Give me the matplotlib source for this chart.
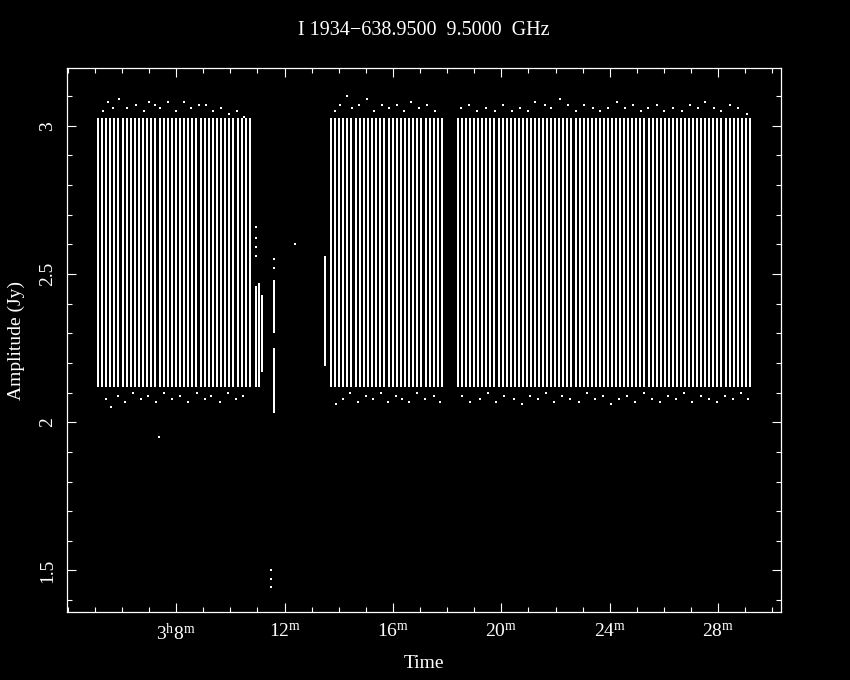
import numpy as np
import matplotlib
matplotlib.use('Agg')
import matplotlib.pyplot as plt
from matplotlib.ticker import FixedLocator, FixedFormatter, MultipleLocator

plt.rcParams['font.family'] = ['Liberation Serif', 'DejaVu Serif']
plt.rcParams['mathtext.fontset'] = 'custom'
plt.rcParams['mathtext.rm'] = 'Liberation Serif'
plt.rcParams['mathtext.it'] = 'Liberation Serif'

# 时间单位: 3h 之后的分钟数
# 三段连续观测 (起点, 终点, 积分次数, 下沿, 上沿)
seg_start = [5.11, 13.71, 18.40]
seg_end = [10.72, 17.81, 29.17]
seg_count = [38, 28, 73]
seg_lo = [2.12, 2.12, 2.12]
seg_hi = [3.025, 3.025, 3.025]

# 零散的短条 (时间, 下沿, 上沿)
part_t = [10.94, 11.07, 11.18, 11.61, 11.61, 13.49]
part_lo = [2.12, 2.12, 2.17, 2.30, 2.03, 2.19]
part_hi = [2.46, 2.47, 2.43, 2.48, 2.25, 2.56]

# 上方离散点
top_t = [5.30, 5.50, 5.65, 5.90, 6.20, 6.50, 6.80, 7.00, 7.20, 7.40, 7.70, 8.00,
         8.30, 8.55, 8.85, 9.10, 9.35, 9.65, 9.95, 10.25, 10.50,
         13.85, 14.05, 14.30, 14.50, 14.75, 15.05, 15.30, 15.60, 15.85, 16.15,
         16.40, 16.65, 16.95, 17.25, 17.55,
         18.50, 18.80, 19.10, 19.45, 19.75, 20.05, 20.40, 20.70, 21.00, 21.25,
         21.60, 21.85, 22.15, 22.45, 22.75, 23.05, 23.40, 23.65, 23.95, 24.25,
         24.55, 24.85, 25.15, 25.40, 25.75, 26.00, 26.35, 26.65, 26.95, 27.25,
         27.50, 27.85, 28.10, 28.45, 28.75, 29.05]
top_a = [3.05, 3.08, 3.06, 3.09, 3.06, 3.07, 3.05, 3.08, 3.07, 3.06, 3.08, 3.05,
         3.08, 3.06, 3.07, 3.07, 3.05, 3.06, 3.04, 3.05, 3.03,
         3.05, 3.07, 3.10, 3.06, 3.07, 3.09, 3.05, 3.07, 3.06, 3.07,
         3.05, 3.08, 3.06, 3.07, 3.05,
         3.06, 3.07, 3.05, 3.06, 3.05, 3.07, 3.05, 3.06, 3.05, 3.08,
         3.07, 3.06, 3.09, 3.07, 3.05, 3.07, 3.06, 3.05, 3.06, 3.08,
         3.06, 3.07, 3.05, 3.06, 3.07, 3.05, 3.06, 3.05, 3.07, 3.06,
         3.08, 3.06, 3.05, 3.07, 3.06, 3.04]

# 下方离散点
bot_t = [5.40, 5.60, 5.85, 6.10, 6.40, 6.70, 6.95, 7.25, 7.55, 7.85, 8.15,
         8.45, 8.75, 9.05, 9.30, 9.60, 9.90, 10.20, 10.45,
         13.90, 14.15, 14.40, 14.70, 15.00, 15.25, 15.55, 15.80, 16.10, 16.35,
         16.60, 16.90, 17.20, 17.50, 17.75,
         18.55, 18.85, 19.20, 19.50, 19.80, 20.10, 20.45, 20.75, 21.05, 21.35,
         21.65, 21.95, 22.25, 22.55, 22.85, 23.15, 23.45, 23.75, 24.05, 24.35,
         24.65, 24.95, 25.25, 25.55, 25.85, 26.15, 26.45, 26.75, 27.05, 27.35,
         27.65, 27.95, 28.25, 28.55, 28.85, 29.10, 7.35]
bot_a = [2.08, 2.05, 2.09, 2.07, 2.10, 2.08, 2.09, 2.07, 2.10, 2.08, 2.09,
         2.07, 2.10, 2.08, 2.09, 2.07, 2.10, 2.08, 2.09,
         2.06, 2.08, 2.10, 2.07, 2.09, 2.08, 2.10, 2.07, 2.09, 2.08,
         2.07, 2.10, 2.08, 2.09, 2.07,
         2.09, 2.07, 2.08, 2.10, 2.07, 2.09, 2.08, 2.06, 2.09, 2.08,
         2.10, 2.07, 2.09, 2.08, 2.07, 2.10, 2.08, 2.09, 2.06, 2.08,
         2.09, 2.07, 2.10, 2.08, 2.07, 2.09, 2.08, 2.10, 2.07, 2.09,
         2.08, 2.07, 2.09, 2.08, 2.10, 2.08, 1.95]

# 零散的孤立点
odd_t = [10.94, 10.94, 10.94, 10.94, 12.38, 11.50, 11.50, 11.50, 11.61, 11.61]
odd_a = [2.66, 2.62, 2.59, 2.56, 2.60, 1.50, 1.47, 1.445, 2.55, 2.52]

xticks = [8, 12, 16, 20, 24, 28]
xlabels = [r'$3^{\rm h}8^{\rm m}$', r'$12^{\rm m}$', r'$16^{\rm m}$',
           r'$20^{\rm m}$', r'$24^{\rm m}$', r'$28^{\rm m}$']
yticks = [1.5, 2.0, 2.5, 3.0]
ylabels = ['1.5', '2', '2.5', '3']

fig = plt.figure(figsize=(8.5, 6.8), dpi=100, facecolor='black')
ax = fig.add_axes([67/850, 1-612/680, (781-67)/850, (612-68)/680])
ax.set_facecolor('black')

for s, e, n, lo, hi in zip(seg_start, seg_end, seg_count, seg_lo, seg_hi):
    t = np.linspace(s, e, n)
    ax.vlines(t, lo, hi, colors='white', linewidth=1.4, antialiased=False)
ax.vlines(part_t, part_lo, part_hi, colors='white', linewidth=1.4, antialiased=False)

for tt, aa in [(top_t, top_a), (bot_t, bot_a), (odd_t, odd_a)]:
    ax.plot(tt, aa, 's', color='white', ms=1.6, mew=0, antialiased=False)

ax.set_xlim(3.97, 30.32)
ax.set_ylim(1.36, 3.195)

ax.xaxis.set_major_locator(FixedLocator(xticks))
ax.xaxis.set_major_formatter(FixedFormatter(xlabels))
ax.xaxis.set_minor_locator(MultipleLocator(1))
ax.yaxis.set_major_locator(FixedLocator(yticks))
ax.yaxis.set_major_formatter(FixedFormatter(ylabels))
ax.yaxis.set_minor_locator(MultipleLocator(0.1))

for sp in ax.spines.values():
    sp.set_color('white')
    sp.set_linewidth(0.9)
ax.tick_params(which='both', direction='in', top=True, right=True,
               colors='white', width=0.8, labelsize=14)
ax.tick_params(which='major', length=6.5)
ax.tick_params(which='minor', length=3.6)
ax.tick_params(axis='x', pad=8)
ax.tick_params(axis='y', pad=8)
for lab in ax.get_yticklabels():
    lab.set_rotation(90)
    lab.set_va('center')

ax.set_xlabel('Time', color='white', fontsize=14, labelpad=8)
ax.set_ylabel('Amplitude (Jy)', color='white', fontsize=14, labelpad=10)
ax.set_title('I 1934\u2212638.9500  9.5000  GHz', color='white', fontsize=14.5, pad=24)

plt.savefig('out.png', dpi=100, facecolor='black')
